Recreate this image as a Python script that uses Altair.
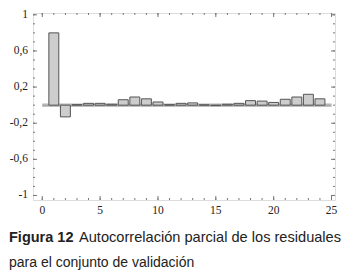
import altair as alt
import pandas as pd

# Data
lags = list(range(1, 25))
pacf = [0.80, -0.13, 0.005, 0.02, 0.02, 0.01, 0.06, 0.09, 0.07, 0.035,
        0.005, 0.02, 0.025, 0.003, -0.005, 0.01, 0.02, 0.05, 0.045, 0.03,
        0.065, 0.09, 0.12, 0.07]
conf_limits = [0.012, -0.012]
x_major = [0, 5, 10, 15, 20, 25]
x_labels = ["0", "5", "10", "15", "20", "25"]
x_minor = list(range(0, 26))
y_major = [-1.0, -0.6, -0.2, 0.2, 0.6, 1.0]
y_labels = ["-1", "-0,6", "-0,2", "0,2", "0,6", "1"]
y_minor = [-1.0, -0.9, -0.8, -0.7, -0.6, -0.5, -0.4, -0.3, -0.2, -0.1, 0.0,
           0.1, 0.2, 0.3, 0.4, 0.5, 0.6, 0.7, 0.8, 0.9, 1.0]
caption_bold = "Figura 12"
caption_line1 = "Autocorrelación parcial de los residuales"
caption_line2 = "para el conjunto de validación"

W, H = 302, 187
x_scale = alt.Scale(domain=[-0.8, 25.3], nice=False, zero=False)
y_scale = alt.Scale(domain=[-1.05, 1.02], nice=False, zero=False)

bars_df = pd.DataFrame({"lag": lags, "v": pacf})

bars = alt.Chart(bars_df).transform_calculate(
    x0="datum.lag - 0.43", x1="datum.lag + 0.43"
).mark_bar(fill="#cdcdcd", stroke="#555", strokeWidth=1).encode(
    x=alt.X("x0:Q", scale=x_scale, axis=None),
    x2="x1:Q",
    y=alt.Y("v:Q", scale=y_scale, axis=None),
    y2=alt.datum(0),
)

conf = alt.Chart(pd.DataFrame({"c": conf_limits})).mark_rule(
    color="#aaa", strokeWidth=1
).encode(
    y=alt.Y("c:Q", scale=y_scale, axis=None),
    x=alt.datum(0, scale=x_scale, axis=None), x2=alt.datum(25),
)

zero = alt.Chart(pd.DataFrame({"z": [0.0]})).mark_rule(color="#888", strokeWidth=1).encode(
    y=alt.Y("z:Q", scale=y_scale, axis=None),
    x=alt.datum(0, scale=x_scale, axis=None), x2=alt.datum(25),
)

tick_color = "#777"

def xticks(vals, length):
    d = pd.DataFrame({"t": vals})
    bottom = alt.Chart(d).mark_rule(color=tick_color, strokeWidth=1).encode(
        x=alt.X("t:Q", scale=x_scale, axis=None), y=alt.value(H), y2=alt.value(H - length))
    top = alt.Chart(d).mark_rule(color=tick_color, strokeWidth=1).encode(
        x=alt.X("t:Q", scale=x_scale, axis=None), y=alt.value(0), y2=alt.value(length))
    return [bottom, top]

def yticks(vals, length):
    d = pd.DataFrame({"t": vals})
    left = alt.Chart(d).mark_rule(color=tick_color, strokeWidth=1).encode(
        y=alt.Y("t:Q", scale=y_scale, axis=None), x=alt.value(0), x2=alt.value(length))
    right = alt.Chart(d).mark_rule(color=tick_color, strokeWidth=1).encode(
        y=alt.Y("t:Q", scale=y_scale, axis=None), x=alt.value(W), x2=alt.value(W - length))
    return [left, right]

ticks = xticks(x_minor, 2) + xticks(x_major, 4) + yticks(y_minor, 2) + yticks(y_major, 4)

xl = alt.Chart(pd.DataFrame({"t": x_major, "s": x_labels})).mark_text(
    font="Liberation Serif", fontSize=11.5, color="#222", baseline="top", align="center"
).encode(x=alt.X("t:Q", scale=x_scale, axis=None), y=alt.value(H + 5), text="s:N")

yl = alt.Chart(pd.DataFrame({"t": y_major, "s": y_labels})).mark_text(
    font="Liberation Serif", fontSize=11.5, color="#222", baseline="middle", align="right"
).encode(y=alt.Y("t:Q", scale=y_scale, axis=None), x=alt.value(-5), text="s:N")

cap_df = pd.DataFrame({"a": [caption_bold], "b": [caption_line1], "c": [caption_line2]})
cap_bold = alt.Chart(cap_df).mark_text(
    align="left", baseline="alphabetic", font="Liberation Sans", fontSize=14.5,
    fontWeight="bold", color="#222"
).encode(text="a:N", x=alt.value(-24), y=alt.value(229))
cap_1 = alt.Chart(cap_df).mark_text(
    align="left", baseline="alphabetic", font="Liberation Sans", fontSize=14.6,
    color="#222"
).encode(text="b:N", x=alt.value(46), y=alt.value(229))
cap_2 = alt.Chart(cap_df).mark_text(
    align="left", baseline="alphabetic", font="Liberation Sans", fontSize=14,
    color="#222"
).encode(text="c:N", x=alt.value(-24), y=alt.value(254))

chart = alt.layer(conf, zero, bars, *ticks, xl, yl, cap_bold, cap_1, cap_2).properties(
    width=W, height=H,
    autosize=alt.AutoSizeParams(type="none"),
    padding={"left": 25, "top": 5, "right": 10, "bottom": 70},
).configure_view(stroke="#666", strokeWidth=1).configure(background="white")

chart.save("out.html", embed_options={"renderer": "svg", "actions": False})
